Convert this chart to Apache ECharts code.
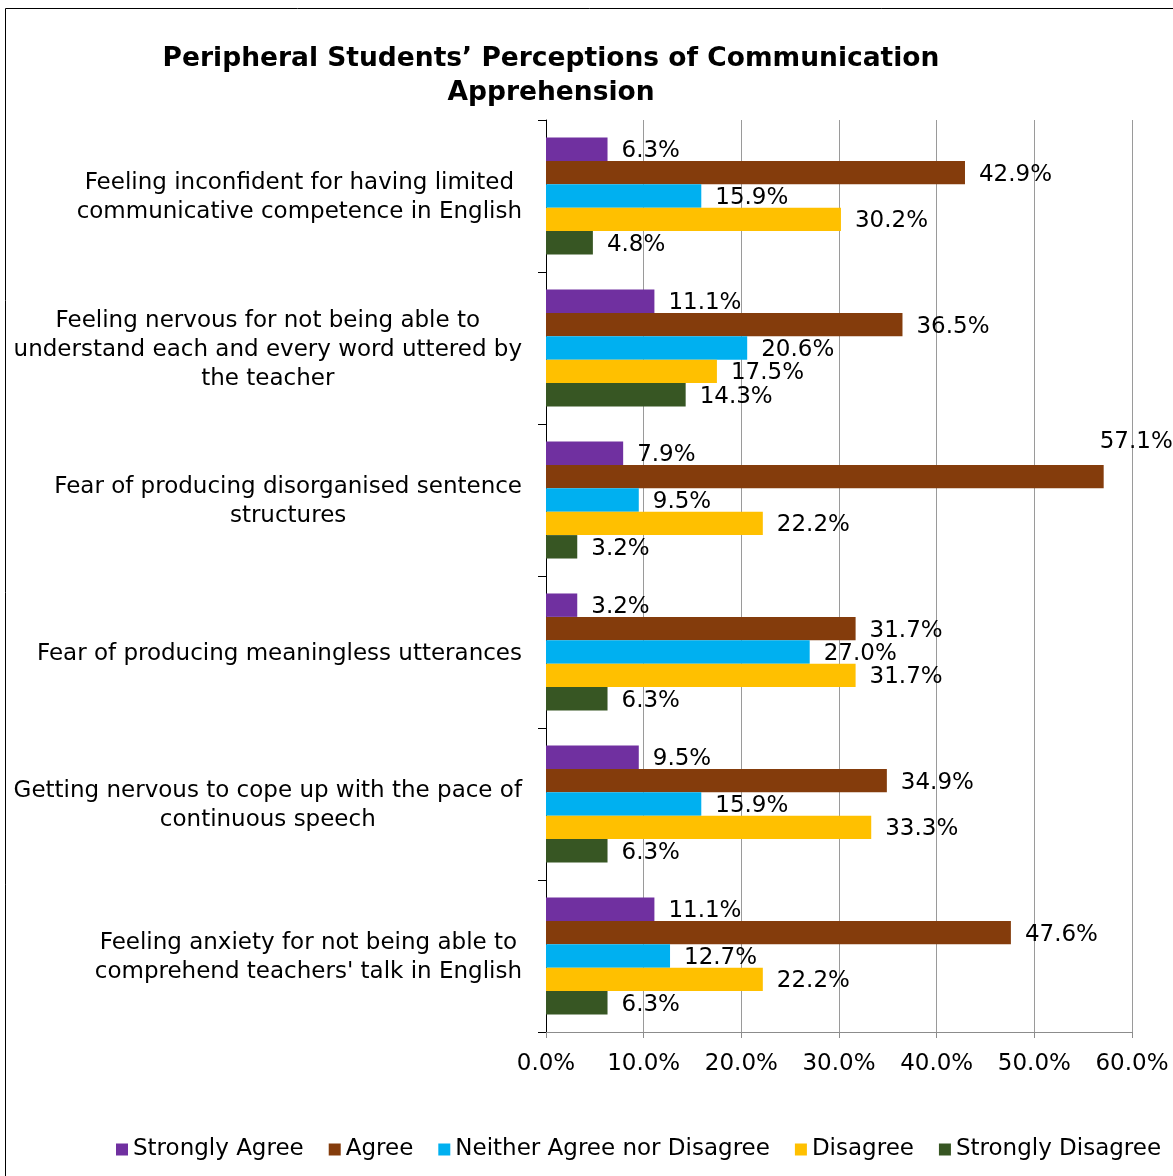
<!DOCTYPE html>
<html>
<head>
<meta charset="utf-8">
<title>Peripheral Students’ Perceptions of Communication Apprehension</title>
<script src="https://cdn.jsdelivr.net/npm/echarts@6/dist/echarts.min.js"></script>
<style>
  html, body { margin: 0; padding: 0; background: #fff; }
  #chart { width: 1173px; height: 1176px; }
</style>
</head>
<body>
<div id="chart"></div>
<script>
// Survey statements (top to bottom)
const statements = [
  'Feeling inconfident for having limited\ncommunicative competence in English',
  'Feeling nervous for not being able to\nunderstand each and every word uttered by\nthe teacher',
  'Fear of producing disorganised sentence\nstructures',
  'Fear of producing meaningless utterances',
  'Getting nervous to cope up with the pace of\ncontinuous speech',
  "Feeling anxiety for not being able to\ncomprehend teachers' talk in English"
];

// Response shares, in percent, one value per statement
const stronglyAgree    = [6.3, 11.1, 7.9, 3.2, 9.5, 11.1];
const agree            = [42.9, 36.5, 57.1, 31.7, 34.9, 47.6];
const neither          = [15.9, 20.6, 9.5, 27.0, 15.9, 12.7];
const disagree         = [30.2, 17.5, 22.2, 31.7, 33.3, 22.2];
const stronglyDisagree = [4.8, 14.3, 3.2, 6.3, 6.3, 6.3];

const responseNames = ['Strongly Agree', 'Agree', 'Neither Agree nor Disagree', 'Disagree', 'Strongly Disagree'];
const responseColors = ['#7030A0', '#843C0C', '#00B0F0', '#FFC000', '#375623'];

// Percent axis ticks
const axisMin = 0, axisMax = 60, axisStep = 10;

const FONT = '"DejaVu Sans", "Liberation Sans", Arial, sans-serif';

// The longest bar's label sits above its bar, pulled back inside the plot
const labelNudges = { 'Agree': { 2: [-18, -35] } };

const seriesValues = [stronglyAgree, agree, neither, disagree, stronglyDisagree];

const series = seriesValues.map((vals, i) => {
  const name = responseNames[i];
  const nudges = labelNudges[name] || {};
  return {
    name: name,
    type: 'bar',
    barGap: '0%',
    barCategoryGap: '23%',
    itemStyle: { color: responseColors[i] },
    label: {
      show: true,
      position: 'right',
      distance: 14,
      offset: [0, 2],
      color: '#000',
      fontFamily: FONT,
      fontSize: 23,
      formatter: p => p.value.toFixed(1) + '%'
    },
    data: vals.map((v, j) => nudges[j] ? { value: v, label: { offset: nudges[j] } } : v)
  };
});

const chart = echarts.init(document.getElementById('chart'), null, { renderer: 'canvas' });

chart.setOption({
  backgroundColor: '#fff',
  animation: false,
  title: {
    text: 'Peripheral Students’ Perceptions of Communication\nApprehension',
    left: 551,
    top: 42,
    padding: 0,
    textAlign: 'center',
    textStyle: {
      fontFamily: FONT,
      fontWeight: 'bold',
      fontSize: 26.5,
      lineHeight: 34,
      color: '#000'
    }
  },
  legend: {
    data: responseNames,
    left: 116,
    top: 1138,
    padding: 0,
    icon: 'rect',
    itemWidth: 12,
    itemHeight: 12,
    itemGap: 25,
    textStyle: { fontFamily: FONT, fontSize: 23, color: '#000' }
  },
  grid: {
    left: 546,
    right: 41,
    top: 120,
    bottom: 144,
    containLabel: false,
    outerBoundsMode: 'none'
  },
  xAxis: {
    type: 'value',
    min: axisMin,
    max: axisMax,
    interval: axisStep,
    axisLine: { show: true, lineStyle: { color: '#8c8c8c', width: 1 } },
    axisTick: { show: true, length: 6, lineStyle: { color: '#8c8c8c' } },
    splitLine: { show: true, lineStyle: { color: '#9a9a9a', width: 1 } },
    axisLabel: {
      margin: 21,
      color: '#000',
      fontFamily: FONT,
      fontSize: 23,
      formatter: v => v.toFixed(1) + '%'
    }
  },
  yAxis: {
    type: 'category',
    inverse: true,
    data: statements,
    axisLine: { show: true, lineStyle: { color: '#000', width: 1 } },
    axisTick: { show: true, length: 8, alignWithLabel: false, lineStyle: { color: '#000' } },
    splitLine: { show: false },
    axisLabel: {
      margin: 24,
      interval: 0,
      formatter: v => v.split('\n').map(line => '{c|' + line + '}').join('\n'),
      rich: {
        c: {
          align: 'center',
          fontFamily: FONT,
          fontSize: 23,
          lineHeight: 29,
          padding: [4, 0, 0, 0],
          color: '#000'
        }
      }
    }
  },
  graphic: [
    {
      type: 'rect',
      silent: true,
      z: -1,
      shape: { x: 5.5, y: 8.5, width: 1300, height: 1300 },
      style: { fill: null, stroke: '#000', lineWidth: 1 }
    }
  ],
  series: series
});
</script>
</body>
</html>
